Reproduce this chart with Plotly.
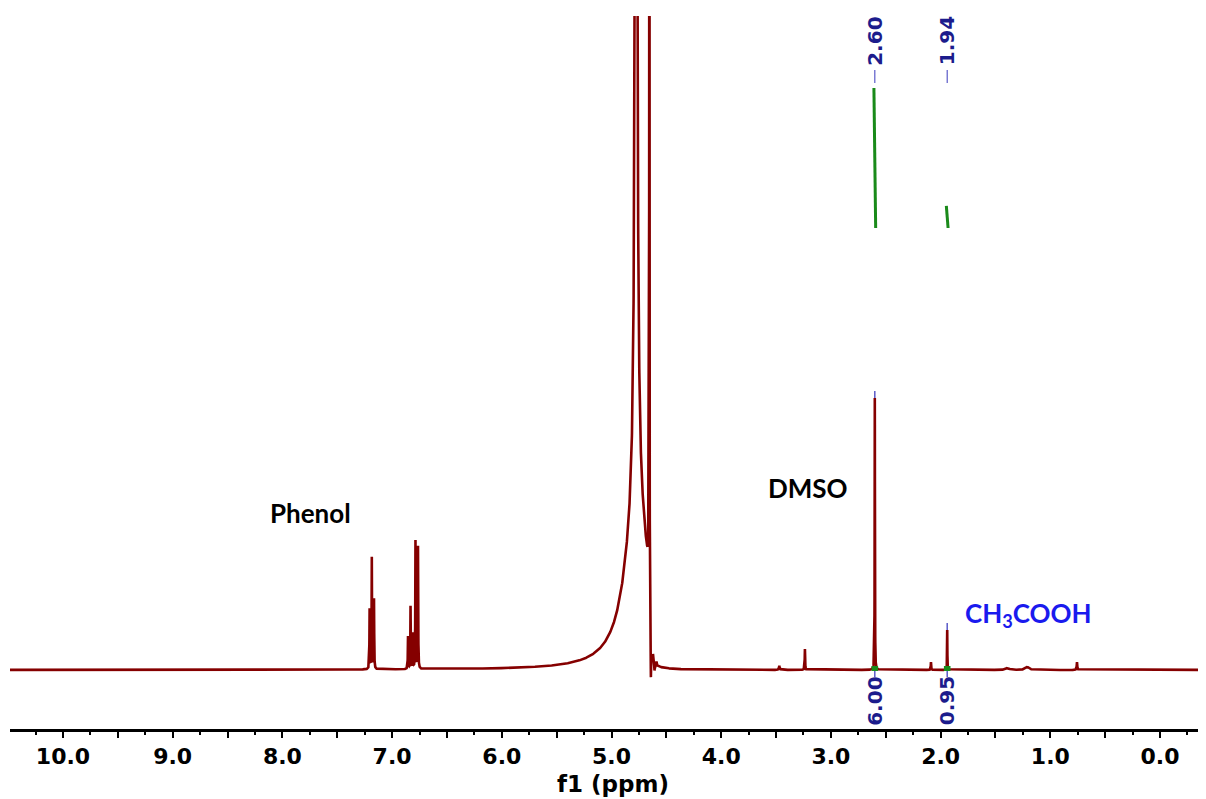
import numpy as np
import plotly.graph_objects as go

# ---------------- data ----------------
# sharp lines: chemical shift (ppm), height (DMSO line = 100), half width (ppm)
PEAK_PPM    = [7.205, 7.185, 7.165, 6.855, 6.832, 6.810, 6.787, 6.764,
               4.776, 4.655, 4.641, 4.622, 4.608, 4.590,
               3.470, 3.237, 2.600, 2.088, 1.940, 1.390, 1.210, 0.757]
PEAK_HEIGHT = [22.0, 41.0, 25.7, 12.0, 23.0, 13.0, 47.0, 45.0,
               400.0, 400.0, -10.0, 3.0, -2.5, 1.5,
               1.5, 7.7, 100.0, 2.9, 14.7, 0.7, 1.1, 2.9]
PEAK_WIDTH  = [0.002, 0.002, 0.002, 0.002, 0.002, 0.002, 0.002, 0.002,
               0.0113, 0.0015, 0.0015, 0.002, 0.002, 0.003,
               0.004, 0.002, 0.0015, 0.002, 0.0015, 0.02, 0.02, 0.003]

# broad (presaturated) water hump, only on the low-field side of the cut
WATER_PPM = 4.77
WATER_HEIGHT = 60.0
WATER_WIDTH = 0.127
WATER_CUT_PPM = 4.656

# peak picking and integrals
PICK_PPM = [2.60, 1.94]
PICK_LABEL = ["2.60", "1.94"]
INTEG_PPM = [2.60, 1.94]
INTEG_VALUE = [6.00, 0.95]
INTEG_LABEL = ["6.00", "0.95"]

# assignment labels
ASSIGN_TEXT = ["Phenol", "DMSO", "CH<sub>3</sub>COOH"]
ASSIGN_PPM = [7.74, 3.21, 1.20]
ASSIGN_Y = [57.7, 66.9, 20.5]
ASSIGN_COLOR = ["black", "black", "#1a1aee"]

TICK_MAJOR = [v / 2 for v in range(0, 22)]
TICK_TEXT = [f"{v:.1f}" if abs(v - round(v)) < 1e-9 else " " for v in TICK_MAJOR]

X_RANGE = [10.483, -0.419]
Y_RANGE = [-21.7, 240.4]

# ---------------- build spectrum ----------------
ppm = np.round(np.arange(-419 * 2, 10484 * 2) * 0.0005, 4)
inten = np.zeros_like(ppm)
for c, h, w in zip(PEAK_PPM, PEAK_HEIGHT, PEAK_WIDTH):
    inten += h * w * w / ((ppm - c) ** 2 + w * w)
step = 1.0 / (1.0 + np.exp(-(ppm - WATER_CUT_PPM) / 0.002))
inten += WATER_HEIGHT * WATER_WIDTH ** 2 / ((ppm - WATER_PPM) ** 2 + WATER_WIDTH ** 2) * step

SPEC_COLOR = "#850000"
NAVY = "#1c1c8c"
GREEN = "#1a8a1a"
PICK_BLUE = "#5a5ac8"

# page geometry (the page body has an 8 px margin)
BODY = 8
PLOT_LEFT, PLOT_TOP, PLOT_BOTTOM = 10, 16, 729
FIG_W, FIG_H = 1206 - BODY, 799 - BODY

def ypx(py):
    return Y_RANGE[0] + (PLOT_BOTTOM - py) / (PLOT_BOTTOM - PLOT_TOP) * (Y_RANGE[1] - Y_RANGE[0])

px_per_unit = (PLOT_BOTTOM - PLOT_TOP) / (Y_RANGE[1] - Y_RANGE[0])

fig = go.Figure()
fig.add_trace(go.Scatter(x=ppm, y=inten, mode="lines",
                         line=dict(color=SPEC_COLOR, width=2.6), hoverinfo="skip"))

shapes = []
annotations = []

for p, lab in zip(PICK_PPM, PICK_LABEL):
    hgt = float(np.interp(p, ppm, inten))
    shapes.append(dict(type="line", xref="x", yref="y", x0=p, x1=p, y0=hgt, y1=hgt + 7 / px_per_unit,
                       line=dict(color=PICK_BLUE, width=1.5)))
    shapes.append(dict(type="line", xref="x", yref="y", x0=p, x1=p, y0=ypx(83), y1=ypx(70),
                       line=dict(color=PICK_BLUE, width=1.2)))
    annotations.append(dict(x=p, y=ypx(41), xref="x", yref="y", text=lab, textangle=-90,
                            showarrow=False, font=dict(family="DejaVu Sans", size=20, color=NAVY, weight="bold")))

INTEG_BASE = ypx(228)
INTEG_SCALE = (228 - 88) / 6.0 / px_per_unit
for p, v, lab in zip(INTEG_PPM, INTEG_VALUE, INTEG_LABEL):
    shapes.append(dict(type="line", xref="x", yref="y", x0=p + 0.008, x1=p - 0.008,
                       y0=INTEG_BASE + v * INTEG_SCALE, y1=INTEG_BASE,
                       line=dict(color=GREEN, width=3)))
    shapes.append(dict(type="rect", xref="x", yref="y", x0=p - 0.03, x1=p + 0.03,
                       y0=ypx(671), y1=ypx(666), fillcolor=GREEN, line=dict(width=0)))
    shapes.append(dict(type="line", xref="x", yref="y", x0=p, x1=p, y0=ypx(671), y1=ypx(677),
                       line=dict(color=PICK_BLUE, width=1.5)))
    annotations.append(dict(x=p, y=ypx(701), xref="x", yref="y", text=lab, textangle=-90,
                            showarrow=False, font=dict(family="DejaVu Sans", size=20, color=NAVY, weight="bold")))

for t, xp, yv, col in zip(ASSIGN_TEXT, ASSIGN_PPM, ASSIGN_Y, ASSIGN_COLOR):
    annotations.append(dict(x=xp, y=yv, xref="x", yref="y", text=t, showarrow=False,
                            font=dict(family="Lato", size=26, color=col, weight="bold")))

annotations.append(dict(x=0.504, y=(PLOT_BOTTOM - 784) / (PLOT_BOTTOM - PLOT_TOP), xref="paper", yref="paper",
                        text="f1 (ppm)", showarrow=False, yanchor="middle",
                        font=dict(family="DejaVu Sans", size=23, color="black", weight="bold")))

fig.update_layout(
    width=FIG_W, height=FIG_H,
    margin=dict(l=PLOT_LEFT - BODY, r=0, t=PLOT_TOP - BODY, b=FIG_H + BODY - PLOT_BOTTOM, pad=0),
    paper_bgcolor="white", plot_bgcolor="white",
    showlegend=False,
    shapes=shapes, annotations=annotations,
    xaxis=dict(range=X_RANGE, showgrid=False, zeroline=False, showline=True, linecolor="black", linewidth=3,
               ticks="outside", ticklen=6, tickwidth=2, tickcolor="black",
               tickvals=TICK_MAJOR, ticktext=TICK_TEXT, automargin=False,
               tickfont=dict(family="DejaVu Sans", size=22, color="black", weight="bold"),
               minor=dict(dtick=0.25, tick0=0, ticks="outside", ticklen=3, tickwidth=2, tickcolor="black")),
    yaxis=dict(range=Y_RANGE, visible=False, showgrid=False, zeroline=False, automargin=False),
)

fig.write_html("out.html")
